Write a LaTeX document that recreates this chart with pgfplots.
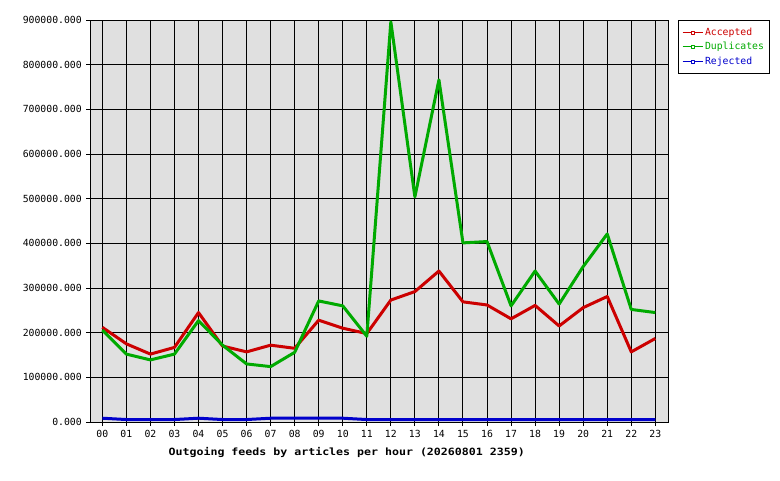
\documentclass[border=0pt]{standalone}
\usepackage{fontspec}
\setmainfont{DejaVu Sans Mono}
\newfontfamily\titlefont[FakeStretch=1.16]{DejaVu Sans Mono Bold}
\usepackage{pgfplots}
\pgfplotsset{compat=1.18}
\definecolor{acc}{RGB}{204,0,0}
\definecolor{dup}{RGB}{0,170,0}
\definecolor{rej}{RGB}{0,0,204}
\definecolor{bg}{RGB}{224,224,224}

\begin{document}
\begin{tikzpicture}[x=1pt,y=1pt]
\useasboundingbox (0,0) rectangle (780,480);
\begin{axis}[
    at={(90.3pt,58pt)}, anchor=south west,
    scale only axis, width=578pt, height=402pt,
    xmin=-0.5, xmax=23.54, ymin=0, ymax=900000,
    xtick={0,...,23},
    xticklabels={00,01,02,03,04,05,06,07,08,09,10,11,12,13,14,15,16,17,18,19,20,21,22,23},
    ytick={0,100000,...,900000},
    xtick pos=bottom, ytick pos=left,
    scaled y ticks=false,
    yticklabel style={xshift=-1pt,
      /pgf/number format/fixed,
      /pgf/number format/fixed zerofill,
      /pgf/number format/precision=3,
      /pgf/number format/1000 sep={},
      /pgf/number format/assume math mode=true},
    ticklabel style={font=\fontsize{9.8}{11}\selectfont, black},
    xticklabel style={yshift=-1pt},
    grid=major,
    major grid style={black, line width=1pt},
    axis line style={black, line width=1pt},
    tick style={black, line width=1pt},
    tick align=outside, major tick length=4pt,
    axis background/.style={fill=bg},
    xlabel={\titlefont\fontsize{10}{12}\selectfont Outgoing feeds by articles per hour (20260801 2359)},
    every axis x label/.style={at={(axis description cs:0.1294,0)}, anchor=base west, yshift=-33pt},
    legend style={at={(1.0168,1)}, anchor=north west, draw=black, line width=1pt,
      fill=white, font=\fontsize{9.8}{11}\selectfont, inner xsep=3.5pt, inner ysep=5.5pt, row sep=1.5pt},
    legend cell align=left,
    legend image code/.code={
      \draw[#1, line width=1pt] (0pt,0pt) -- (20pt,0pt);
      \draw[#1, line width=0.8pt, fill=white] (8.5pt,-1.5pt) rectangle (11.5pt,1.5pt);
    },
  ]
  \addplot[acc, line width=3pt, line join=round] coordinates {
    (0,212000) (1,175000) (2,152000) (3,167000) (4,245000) (5,170000)
    (6,157000) (7,172000) (8,165000) (9,228000) (10,210000) (11,198000)
    (12,273000) (13,292000) (14,338000) (15,269000) (16,262000) (17,231000)
    (18,261000) (19,215000) (20,256000) (21,281000) (22,157000) (23,187000)
  };
  \addlegendentry{\textcolor{acc}{Accepted}}
  \addplot[dup, line width=3pt, line join=round] coordinates {
    (0,206000) (1,152000) (2,139000) (3,152000) (4,227000) (5,172000)
    (6,130000) (7,124000) (8,156000) (9,271000) (10,260000) (11,192000)
    (12,896000) (13,504000) (14,766000) (15,401000) (16,404000) (17,260000)
    (18,338000) (19,264000) (20,348000) (21,421000) (22,252000) (23,245000)
  };
  \addlegendentry{\textcolor{dup}{Duplicates}}
  \addplot[rej, line width=3pt, line join=round] coordinates {
    (0,8500) (1,5500) (2,5500) (3,5500) (4,8500) (5,5500)
    (6,5500) (7,8500) (8,8500) (9,8500) (10,8500) (11,5500)
    (12,5500) (13,5500) (14,5500) (15,5500) (16,5500) (17,5500)
    (18,5500) (19,5500) (20,5500) (21,5500) (22,5500) (23,5500)
  };
  \addlegendentry{\textcolor{rej}{Rejected}}
\end{axis}
\end{tikzpicture}
\end{document}
